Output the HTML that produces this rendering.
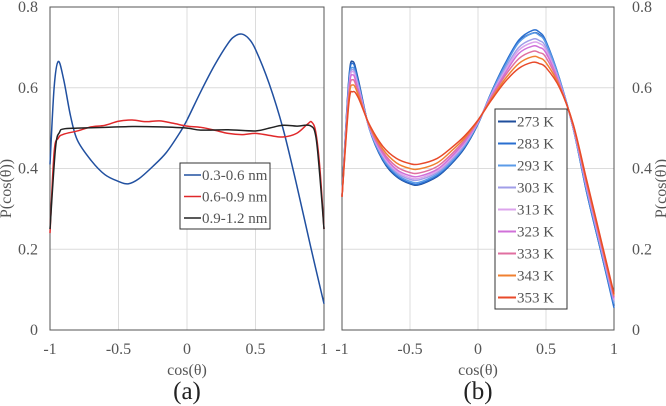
<!DOCTYPE html>
<html><head><meta charset="utf-8">
<style>
body{margin:0;background:#fff;}
svg{display:block;font-family:"Liberation Serif",serif;}
.tick{fill:#555;font-size:16px;}
.leg{fill:#555;font-size:15px;}
</style></head>
<body>
<svg id="chart" width="666" height="406" viewBox="0 0 666 406"></svg>
<script>
// ---- data ----
const xTicks=[-1,-0.5,0,0.5,1];
const xTickLabels=["-1","-0.5","0","0.5","1"];
const yTicks=[0,0.2,0.4,0.6,0.8];
const yTickLabels=["0","0.2","0.4","0.6","0.8"];

const aNames=["0.3-0.6 nm","0.6-0.9 nm","0.9-1.2 nm"];
const aX1=[-1,-0.97,-0.94,-0.9,-0.85,-0.8,-0.7,-0.6,-0.5,-0.43,-0.35,-0.25,-0.15,-0.05,0,0.1,0.2,0.3,0.35,0.4,0.45,0.5,0.6,0.7,0.8,0.9,1];
const aY1=[0.41,0.6,0.665,0.62,0.53,0.47,0.42,0.385,0.368,0.362,0.375,0.405,0.44,0.49,0.52,0.59,0.655,0.71,0.728,0.733,0.722,0.695,0.61,0.5,0.36,0.21,0.065];
const aX2=[-1,-0.97,-0.94,-0.9,-0.8,-0.7,-0.6,-0.5,-0.4,-0.3,-0.2,-0.1,0,0.1,0.2,0.3,0.4,0.5,0.6,0.7,0.8,0.88,0.91,0.94,0.97,1];
const aY2=[0.24,0.44,0.475,0.485,0.493,0.503,0.507,0.517,0.52,0.516,0.518,0.512,0.505,0.502,0.495,0.487,0.484,0.487,0.482,0.478,0.487,0.51,0.515,0.49,0.4,0.25];
const aX3=[-1,-0.96,-0.93,-0.9,-0.8,-0.6,-0.4,-0.2,0,0.1,0.3,0.5,0.6,0.7,0.8,0.9,0.94,0.97,1];
const aY3=[0.25,0.45,0.49,0.498,0.5,0.502,0.504,0.503,0.5,0.495,0.496,0.493,0.5,0.507,0.505,0.506,0.48,0.38,0.25];

const bNames=["273 K","283 K","293 K","303 K","313 K","323 K","333 K","343 K","353 K"];
const bX=[-1,-0.95,-0.92,-0.88,-0.8,-0.7,-0.6,-0.5,-0.43,-0.3,-0.2,-0.1,0,0.1,0.2,0.3,0.4,0.45,0.5,0.6,0.7,0.8,0.9,1];
const b273=[0.33,0.62,0.665,0.62,0.50,0.42,0.38,0.362,0.36,0.38,0.41,0.45,0.51,0.59,0.66,0.715,0.735,0.732,0.71,0.62,0.50,0.34,0.20,0.06];
const b283=[0.33,0.615,0.66,0.615,0.50,0.422,0.382,0.364,0.362,0.382,0.412,0.452,0.511,0.59,0.66,0.718,0.742,0.738,0.715,0.622,0.50,0.34,0.20,0.055];
const b293=[0.33,0.605,0.65,0.61,0.50,0.425,0.386,0.368,0.366,0.386,0.415,0.455,0.512,0.588,0.655,0.712,0.735,0.73,0.71,0.62,0.50,0.345,0.205,0.065];
const b303=[0.33,0.60,0.645,0.605,0.502,0.43,0.39,0.373,0.372,0.39,0.42,0.458,0.514,0.585,0.648,0.70,0.72,0.717,0.70,0.615,0.502,0.35,0.21,0.07];
const b313=[0.33,0.595,0.64,0.60,0.503,0.433,0.394,0.377,0.376,0.394,0.424,0.462,0.515,0.582,0.642,0.693,0.712,0.71,0.693,0.612,0.503,0.353,0.213,0.075];
const b323=[0.33,0.59,0.632,0.595,0.504,0.437,0.398,0.382,0.381,0.398,0.428,0.465,0.516,0.58,0.636,0.685,0.703,0.70,0.686,0.61,0.504,0.357,0.217,0.078];
const b333=[0.33,0.58,0.62,0.588,0.506,0.442,0.405,0.39,0.389,0.405,0.434,0.47,0.518,0.577,0.63,0.672,0.69,0.687,0.675,0.606,0.506,0.362,0.222,0.082];
const b343=[0.33,0.57,0.607,0.582,0.508,0.448,0.414,0.40,0.399,0.414,0.442,0.475,0.519,0.573,0.622,0.66,0.677,0.674,0.662,0.603,0.508,0.366,0.226,0.086];
const b353=[0.33,0.56,0.59,0.575,0.51,0.455,0.425,0.412,0.411,0.425,0.45,0.48,0.52,0.57,0.615,0.648,0.663,0.66,0.65,0.60,0.51,0.37,0.23,0.09];
const bSeries=[b273,b283,b293,b303,b313,b323,b333,b343,b353];
const bColors=["#1f4e9c","#2a6fd0","#5b9be8","#a09ee8","#dca4ec","#d070d8","#e06fa0","#f08030","#e84a2a"];

// ---- drawing ----
const NS="http://www.w3.org/2000/svg";
const svg=document.getElementById('chart');
function mk(tag,attrs,parent){const e=document.createElementNS(NS,tag);for(const k in attrs)e.setAttribute(k,attrs[k]);(parent||svg).appendChild(e);return e;}
const Y0=330,Y1=7;
function yS(v){return Y0+(Y1-Y0)*v/0.8;}
function xScale(l,r){return v=>l+(r-l)*(v+1)/2;}
function pathD(xs,ys,xs_){const p=xs.map((x,i)=>[xs_(x),yS(ys[i])]);let d="M"+p[0][0]+","+p[0][1];
 for(let i=0;i<p.length-1;i++){const p0=p[Math.max(0,i-1)],p1=p[i],p2=p[i+1],p3=p[Math.min(p.length-1,i+2)];
 const c1=[p1[0]+(p2[0]-p0[0])/6,p1[1]+(p2[1]-p0[1])/6],c2=[p2[0]-(p3[0]-p1[0])/6,p2[1]-(p3[1]-p1[1])/6];
 d+=" C"+c1+" "+c2+" "+p2;}return d;}

function panel(name,l,r,rightAxis,label){
 const xs=xScale(l,r);
 const g=mk('g',{});
 
 
 xTicks.forEach((t,i)=>{const gl=mk('line',{x1:xs(t),x2:xs(t),y1:Y1,y2:Y0,stroke:'#dcdcdc','stroke-width':1},g);
  
  const tx=mk('text',{x:xs(t),y:Y0+24,'text-anchor':'middle',class:'tick'},g);tx.textContent=xTickLabels[i];
  });
 yTicks.forEach((t,i)=>{const gl=mk('line',{x1:l,x2:r,y1:yS(t),y2:yS(t),stroke:'#dcdcdc','stroke-width':1},g);
  
  const tx=mk('text',{x:rightAxis?r+18:l-12,y:yS(t)+5,'text-anchor':rightAxis?'start':'end',class:'tick'},g);tx.textContent=yTickLabels[i];
  });
 const fr=mk('rect',{x:l,y:Y1,width:r-l,height:Y0-Y1,fill:'none',stroke:'#555','stroke-width':1},g);
 
 const xt=mk('text',{x:(l+r)/2,y:Y0+45,'text-anchor':'middle',class:'tick'},g);xt.textContent='cos(θ)';
 
 const yx=rightAxis?r+52:l-39;
 const yt=mk('text',{x:yx,y:(Y0+Y1)/2+20,'text-anchor':'middle',class:'tick',transform:`rotate(-90 ${yx} ${(Y0+Y1)/2+20})`},g);yt.textContent='P(cos(θ))';
 
 const lb=mk('text',{x:(l+r)/2,y:Y0+69,'text-anchor':'middle','font-size':'25px',fill:'#222'},g);lb.textContent=label;
 
 return {g,xs};
}

const A=panel('panel-a',50,324,false,'(a)');
[[aX1,aY1,'#2150a0'],[aX2,aY2,'#e0282a'],[aX3,aY3,'#222222']].forEach((s,i)=>{
 const p=mk('path',{d:pathD(s[0],s[1],A.xs),fill:'none',stroke:s[2],'stroke-width':1.5},A.g);
 
 
});
const lgA=mk('g',{},A.g);


mk('rect',{x:180,y:163,width:90,height:66,fill:'#fff',stroke:'#333','stroke-width':1},lgA);
['#2150a0','#e0282a','#222222'].forEach((c,i)=>{const yy=175+i*21.5;
 mk('line',{x1:184,x2:201,y1:yy,y2:yy,stroke:c,'stroke-width':1.5},lgA);
 const t=mk('text',{x:202,y:yy+5,class:'leg'},lgA);t.textContent=aNames[i];
 });

const B=panel('panel-b',342,614,true,'(b)');
bSeries.forEach((ys,i)=>{
 const p=mk('path',{d:pathD(bX,ys,B.xs),fill:'none',stroke:bColors[i],'stroke-width':1.5},B.g);
 
 
});
const lgB=mk('g',{},B.g);


mk('rect',{x:495,y:109,width:72,height:200,fill:'#fff',stroke:'#333','stroke-width':1},lgB);
bNames.forEach((n,i)=>{const yy=121.5+i*22;
 mk('line',{x1:498,x2:516,y1:yy,y2:yy,stroke:bColors[i],'stroke-width':2},lgB);
 const t=mk('text',{x:517,y:yy+5,class:'leg'},lgB);t.textContent=n;
 });
</script>
</body></html>
